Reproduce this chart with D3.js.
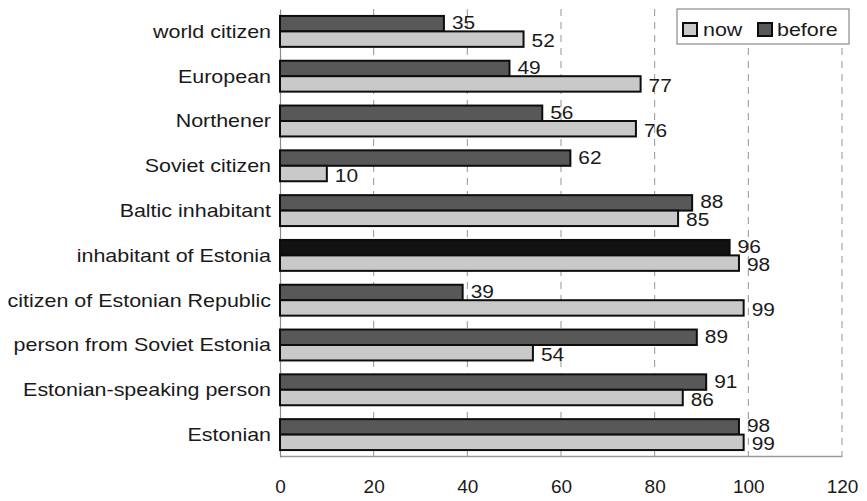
<!DOCTYPE html>
<html>
<head>
<meta charset="utf-8">
<script src="https://cdn.jsdelivr.net/npm/d3@7/dist/d3.min.js"></script>
<style>
  html, body { margin: 0; padding: 0; background: #fff; }
  svg { display: block; font-family: "Liberation Sans", Arial, Helvetica, sans-serif; }
</style>
</head>
<body>
<svg id="chart" width="867" height="501"></svg>
<script>
// ---- data ----
const categories = [
  "world citizen",
  "European",
  "Northener",
  "Soviet citizen",
  "Baltic inhabitant",
  "inhabitant of Estonia",
  "citizen of Estonian Republic",
  "person from Soviet Estonia",
  "Estonian-speaking person",
  "Estonian"
];
const beforeValues = [35, 49, 56, 62, 88, 96, 39, 89, 91, 98];
const nowValues    = [52, 77, 76, 10, 85, 98, 99, 54, 86, 99];
const seriesNames  = ["now", "before"];
const xTicks       = [0, 20, 40, 60, 80, 100, 120];

// ---- styling ----
const highlightCategory = "inhabitant of Estonia";
const colBefore = "#585858";
const colNow = "#c9c9c9";
const colHighlight = "#121212";
const textCol = "#1a1a1a";
const sx = 1.16; // horizontal text stretch seen in the reference

const svg = d3.select("#chart");

const x = d3.scaleLinear().domain([0, 120]).range([280, 842]);
const y = d3.scaleBand().domain(categories).range([9, 457]).paddingInner(0.31).paddingOuter(0.155);
const sub = d3.scaleBand().domain(["before", "now"]).range([0, y.bandwidth()]);

// gridlines
svg.append("g").selectAll("line")
  .data(xTicks.filter(t => t > 0))
  .join("line")
  .attr("x1", d => x(d)).attr("x2", d => x(d))
  .attr("y1", 9).attr("y2", 456)
  .attr("stroke", "#959595").attr("stroke-width", 1)
  .attr("stroke-dasharray", "7,6");

// x axis
const xAxis = d3.axisBottom(x).tickValues(xTicks).tickSize(0).tickPadding(24);
const gx = svg.append("g").attr("transform", "translate(0,456)").call(xAxis);
gx.select(".domain").attr("stroke", "#9a9a9a").attr("stroke-width", 1.5);
gx.selectAll(".tick text").attr("font-size", 19).attr("fill", textCol)
  .attr("font-family", "'Liberation Sans', Arial, sans-serif");

// y axis
const yAxis = d3.axisLeft(y).tickSize(0).tickPadding(0);
const gy = svg.append("g").attr("transform", "translate(280,0)").call(yAxis);
gy.select(".domain").attr("stroke", "#8a8a8a").attr("stroke-width", 1.2);
gy.selectAll(".tick text")
  .attr("font-size", 18.5).attr("fill", textCol)
  .attr("font-family", "'Liberation Sans', Arial, sans-serif")
  .attr("x", 0).attr("dy", "0.35em")
  .attr("transform", `translate(-9,0) scale(${sx},1)`);

// bars
const rows = categories.map((c, i) => ({ c, before: beforeValues[i], now: nowValues[i] }));
const groups = svg.append("g").selectAll("g.row").data(rows).join("g")
  .attr("class", "row")
  .attr("transform", d => `translate(0,${y(d.c)})`);

groups.append("rect")
  .attr("x", x(0))
  .attr("y", sub("before"))
  .attr("width", d => x(d.before) - x(0))
  .attr("height", sub.bandwidth())
  .attr("fill", d => d.c === highlightCategory ? colHighlight : colBefore)
  .attr("stroke", "#0d0d0d").attr("stroke-width", 2);

groups.append("rect")
  .attr("x", x(0))
  .attr("y", sub("now"))
  .attr("width", d => x(d.now) - x(0))
  .attr("height", sub.bandwidth())
  .attr("fill", colNow)
  .attr("stroke", "#0d0d0d").attr("stroke-width", 2);

// value labels
groups.append("text")
  .attr("transform", d => `translate(${x(d.before) + 8},${sub("before") + sub.bandwidth() / 2 - 1}) scale(${sx},1)`)
  .attr("dy", "0.36em")
  .attr("font-size", 18).attr("fill", textCol)
  .text(d => d.before);

groups.append("text")
  .attr("transform", d => `translate(${x(d.now) + 8},${sub("now") + sub.bandwidth() / 2 + 1.5}) scale(${sx},1)`)
  .attr("dy", "0.36em")
  .attr("font-size", 18).attr("fill", textCol)
  .text(d => d.now);

// legend
const lg = svg.append("g");
lg.append("rect").attr("x", 677).attr("y", 9).attr("width", 172).attr("height", 35)
  .attr("fill", "#fff").attr("stroke", "#8a8a8a").attr("stroke-width", 1.2);
const legendItems = [
  { name: seriesNames[0], fill: colNow, sx: 683, tx: 703 },
  { name: seriesNames[1], fill: colBefore, sx: 758, tx: 777 }
];
const li = lg.selectAll("g.li").data(legendItems).join("g").attr("class", "li");
li.append("rect")
  .attr("x", d => d.sx).attr("y", 23).attr("width", 14).attr("height", 13)
  .attr("fill", d => d.fill).attr("stroke", "#0d0d0d").attr("stroke-width", 2);
li.append("text")
  .attr("transform", d => `translate(${d.tx},29.5) scale(${sx},1)`)
  .attr("dy", "0.36em")
  .attr("font-size", 18.5).attr("fill", textCol)
  .text(d => d.name);
</script>
</body>
</html>
